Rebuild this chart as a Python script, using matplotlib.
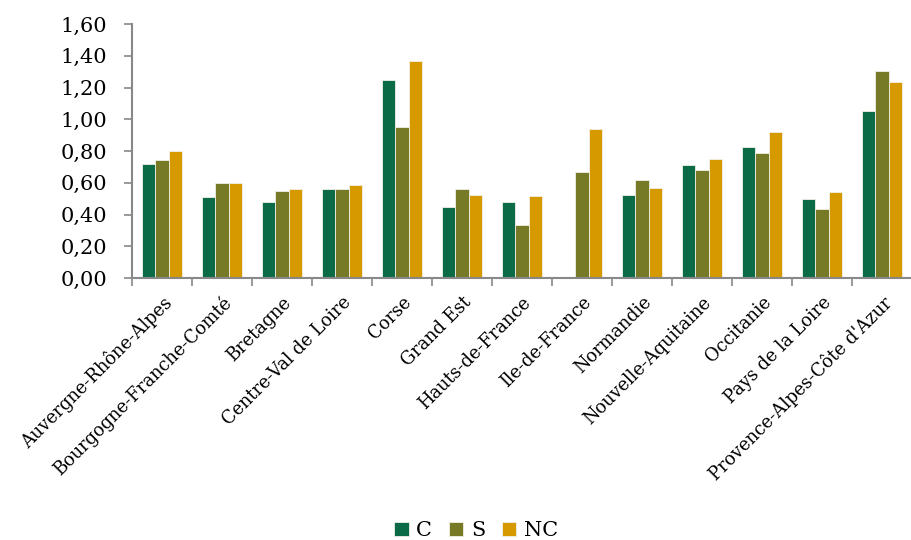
import matplotlib
matplotlib.use("Agg")
import matplotlib.pyplot as plt
import numpy as np

categories = ["Auvergne-Rhône-Alpes", "Bourgogne-Franche-Comté", "Bretagne",
              "Centre-Val de Loire", "Corse", "Grand Est", "Hauts-de-France",
              "Ile-de-France", "Normandie", "Nouvelle-Aquitaine", "Occitanie",
              "Pays de la Loire", "Provence-Alpes-Côte d'Azur"]
C = [0.72, 0.51, 0.48, 0.56, 1.245, 0.45, 0.48, np.nan, 0.525, 0.71, 0.825, 0.50, 1.055]
S = [0.745, 0.60, 0.545, 0.56, 0.95, 0.56, 0.335, 0.67, 0.62, 0.68, 0.79, 0.435, 1.305]
NC = [0.80, 0.60, 0.56, 0.585, 1.365, 0.52, 0.515, 0.94, 0.565, 0.75, 0.92, 0.54, 1.235]
yticks = [0.0, 0.2, 0.4, 0.6, 0.8, 1.0, 1.2, 1.4, 1.6]

plt.rcParams['font.family'] = ['DejaVu Serif']

fig = plt.figure(figsize=(9.12, 5.4), dpi=100)
ax = fig.add_axes([132/912, 1-278/540, (912-132)/912, (278-24)/540])

x = np.arange(len(categories))
w = 0.225
cols = ["#0b6b47", "#767a27", "#d69a00"]
names = ["C", "S", "NC"]
for i, (vals, c, n) in enumerate(zip([C, S, NC], cols, names)):
    ax.bar(x + (i - 1) * w, vals, w, color=c, label=n, edgecolor="#f0f0e8", linewidth=0.6)

ax.set_xlim(-0.5, len(categories) - 0.5)
ax.set_ylim(0, 1.6)
ax.set_yticks(yticks)
ax.set_yticklabels([f"{v:.2f}".replace(".", ",") for v in yticks], fontsize=15)
ax.set_xticks(x)
ax.set_xticklabels(categories, rotation=45, ha="right", rotation_mode="anchor", fontsize=12.8)
ax.tick_params(axis="x", which="major", length=0, pad=11)
ax.set_xticks(np.arange(-0.5, len(categories), 1), minor=True)
ax.tick_params(axis="x", which="minor", length=6, color="#888888", width=1.2)
ax.tick_params(axis="y", length=6, color="#888888", width=1.2, pad=12)
for s in ["top", "right"]:
    ax.spines[s].set_visible(False)
for s in ["left", "bottom"]:
    ax.spines[s].set_color("#888888")
    ax.spines[s].set_linewidth(1.5)

fig.legend(loc="lower center", bbox_to_anchor=(0.522, -0.035), ncol=3, frameon=False,
           fontsize=15, handlelength=0.7, handleheight=0.7, handletextpad=0.35, columnspacing=0.8)

fig.savefig("out.png", dpi=100)
